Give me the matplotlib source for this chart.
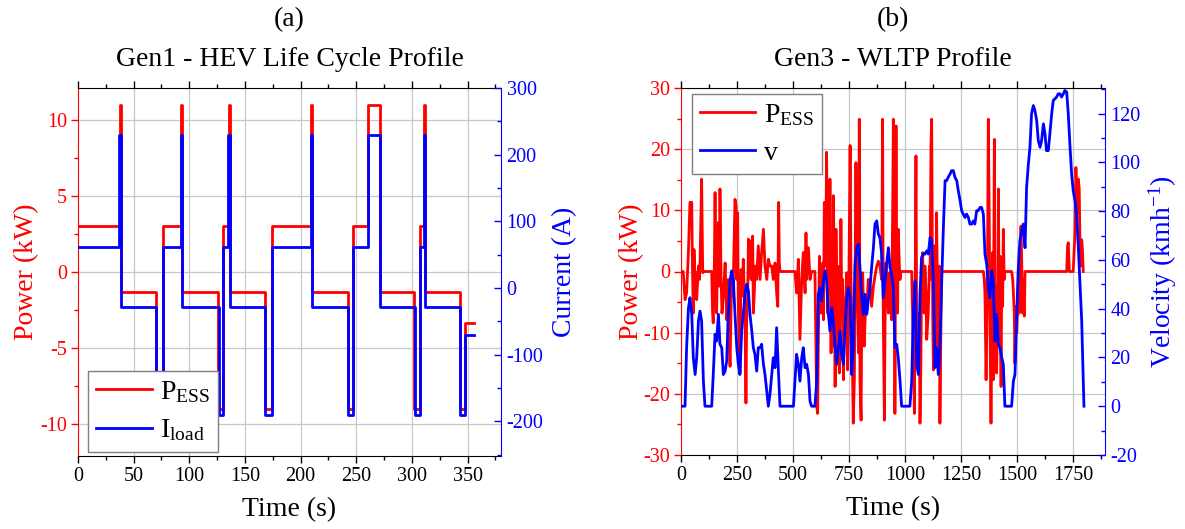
import matplotlib
matplotlib.use("Agg")
import matplotlib.pyplot as plt
from matplotlib.ticker import MultipleLocator
from matplotlib.lines import Line2D

plt.rcParams['font.family'] = ['Liberation Serif', 'DejaVu Serif']
plt.rcParams['mathtext.fontset'] = 'custom'
plt.rcParams['mathtext.rm'] = 'Liberation Serif'
plt.rcParams['mathtext.it'] = 'Liberation Serif:italic'
plt.rcParams['axes.unicode_minus'] = False

RED = '#ff0000'
BLUE = '#0000ff'

# ---------------- (a) Gen1 - HEV life cycle profile (step data) ----------------
p_time = [0, 37.5, 38.5, 70, 76, 92.5, 93.5, 126, 130, 135.5, 136.5, 168, 174, 209.5, 210.5,
          242.5, 247, 260.5, 271, 302, 307, 310.5, 311.5, 343, 347.5, 355.5]
p_ess = [3, 11, -1.3, -9, 3, 11, -1.3, -9, 3, 11, -1.3, -9, 3, 11, -1.3,
         -9, 3, 11, -1.3, -9, 3, 11, -1.3, -9, -3.35, -3.35]

i_time = [0, 37.2, 38.6, 70.5, 76.5, 92.2, 93.6, 126.3, 130.3, 135.2, 136.6, 168.3, 174.3, 209.3, 210.6,
          242.6, 247.2, 260.5, 271, 302.6, 307.2, 310.4, 311.6, 343.2, 347.7, 355.5]
i_load = [62, 230, -28, -190, 62, 230, -28, -190, 62, 230, -28, -190, 62, 230, -28,
          -190, 62, 230, -28, -190, 62, 230, -28, -190, -71, -71]

# ---------------- (b) Gen3 - WLTP profile ----------------
v_time = [0, 18, 25, 33, 40, 48, 55, 63, 70, 78, 85, 92, 100, 107, 137, 144, 152, 159, 167, 174,
          182, 189, 197, 204, 211, 219, 226, 234, 241, 249, 256, 263, 271, 278, 286, 293, 301, 308,
          316, 323, 330, 338, 345, 353, 360, 368, 375, 383, 390, 397, 405, 412, 420, 427, 435, 442,
          502, 516, 524, 531, 539, 546, 554, 561, 569, 576, 583, 598, 606, 613, 621, 628, 636, 643,
          650, 658, 665, 673, 680, 688, 695, 702, 710, 717, 725, 732, 740, 747, 755, 762, 769, 777,
          784, 792, 799, 807, 814, 821, 829, 836, 844, 851, 859, 866, 874, 881, 888, 896, 903, 911,
          918, 926, 933, 940, 948, 955, 963, 970, 978, 985, 1022, 1030, 1037, 1045, 1052, 1060, 1067,
          1074, 1082, 1089, 1097, 1104, 1112, 1119, 1127, 1134, 1141, 1149, 1156, 1164, 1171, 1179,
          1186, 1193, 1201, 1208, 1216, 1223, 1231, 1238, 1246, 1253, 1260, 1268, 1275, 1283, 1290,
          1298, 1305, 1312, 1320, 1327, 1335, 1342, 1350, 1357, 1365, 1372, 1379, 1387, 1394, 1402,
          1409, 1417, 1424, 1432, 1439, 1446, 1476, 1484, 1491, 1499, 1506, 1513, 1521, 1528, 1536,
          1543, 1551, 1558, 1565, 1573, 1580, 1588, 1595, 1603, 1610, 1618, 1625, 1632, 1640, 1647,
          1655, 1662, 1670, 1677, 1684, 1692, 1699, 1707, 1714, 1722, 1729, 1737, 1744, 1751, 1759,
          1766, 1774, 1781, 1789, 1796, 1799]
velocity = [0, 0, 24, 40, 44.5, 37.7, 19.9, 13, 20, 35, 39, 35, 10.3, 0, 0, 13, 29.5, 26.7, 37.7, 25.4,
            24, 13, 14.4, 18.5, 37.7, 51.4, 55.5, 51.4, 37.7, 24, 17.2, 13, 30.9, 37.7, 45.9, 50, 47.3, 37.7,
            30.9, 24, 21.3, 14.4, 24, 24, 25.4, 17.2, 13, 6.2, 0, 4.8, 13, 19.9, 15.8, 32.2, 14.4, 0,
            0, 21.3, 17.2, 10.3, 19.9, 24, 15.8, 17.2, 13, 2, 0, 0, 10.3, 45.9, 48.7, 43.2, 51.4, 55.5,
            51.4, 37.7, 30.9, 40.4, 35, 24, 17.2, 24, 30.9, 21.3, 17.2, 30.9, 44.5, 48.7, 44.5, 13, 24, 58.2,
            65, 66.5, 56.9, 44.5, 37.7, 45.9, 37.7, 43.2, 48.7, 56.9, 65, 74.7, 76, 70.6, 69.2, 62.4, 44.5, 51.4,
            58.2, 65, 56.9, 54.1, 48.7, 24, 25.4, 19.9, 10.3, 0, 0, 10.3, 37.7, 51.4, 17.2, 13, 45.9,
            61, 62.4, 62.4, 63.7, 62.4, 69.2, 67.8, 51.4, 15.8, 24, 13, 24, 51.4, 72, 92.5,
            92.5, 93.9, 95.2, 96.6, 96.6, 93.9, 92.5, 88.4, 84.3, 80.2, 78.8, 77.4, 78.8, 77.4, 74.7,
            74.7, 76, 74.7, 80.2, 80.2, 81.5, 81.5, 78.8, 62.4, 58.2, 48.7, 44.5, 55.5, 51.4, 26.7,
            37.7, 25.4, 24, 19.9, 17.2, 0, 0, 10.3, 13, 37.7, 56.9, 67.8, 72, 74.7, 65,
            89.8, 99.4, 106.2, 119.9, 123.3, 121.3, 117.2, 109, 106.2, 109, 115.8, 111.7, 104.8, 104.8, 111.7,
            119.9, 125.4, 126.1, 126.8, 128.1, 128.1, 126.8, 128.1, 129.5, 128.8, 119.9, 106.2, 95.2, 88.4, 84.3,
            78.8, 65, 51.4, 35, 10.3, 0]

pw_time = [0, 10, 18, 25, 33, 40, 48, 51, 55, 58, 63, 67, 70, 78, 82, 85, 92, 97, 100, 137, 141, 144,
           149, 152, 156, 159, 164, 167, 171, 174, 179, 183, 189, 197, 204, 211, 216, 219, 223, 226,
           231, 234, 241, 246, 249, 253, 256, 260, 263, 268, 271, 275, 278, 286, 290, 293, 298, 301,
           305, 308, 313, 316, 320, 323, 328, 330, 338, 345, 353, 360, 368, 375, 383, 390, 397, 405,
           412, 420, 427, 432, 436, 439, 442, 509, 516, 524, 531, 539, 546, 554, 558, 561, 569, 576,
           583, 598, 606, 610, 613, 618, 621, 625, 628, 633, 636, 640, 643, 647, 650, 655, 658, 662,
           665, 670, 673, 677, 680, 685, 688, 692, 695, 700, 702, 707, 710, 714, 717, 722, 725, 729,
           732, 737, 740, 744, 749, 755, 759, 762, 766, 769, 774, 777, 781, 784, 789, 792, 796, 799,
           804, 807, 811, 814, 818, 821, 826, 829, 836, 844, 851, 859, 866, 874, 881, 888, 896, 900,
           903, 908, 911, 915, 918, 926, 930, 933, 940, 945, 948, 952, 955, 960, 963, 967, 970, 975,
           978, 981, 1030, 1034, 1037, 1042, 1045, 1049, 1052, 1057, 1060, 1064, 1067, 1071, 1074,
           1079, 1082, 1086, 1089, 1094, 1097, 1104, 1109, 1112, 1116, 1119, 1124, 1127, 1131, 1134,
           1138, 1141, 1146, 1149, 1153, 1156, 1161, 1164, 1350, 1354, 1357, 1362, 1365, 1369, 1372,
           1376, 1379, 1384, 1387, 1391, 1394, 1399, 1402, 1406, 1409, 1414, 1417, 1421, 1424, 1429,
           1432, 1436, 1439, 1443, 1446, 1476, 1481, 1484, 1488, 1491, 1495, 1499, 1503, 1506, 1510,
           1513, 1518, 1521, 1525, 1528, 1533, 1536, 1722, 1726, 1729, 1734, 1751, 1759, 1763, 1766,
           1771, 1774, 1778, 1781, 1786, 1789, 1793, 1796]
power = [0, 0, -4.6, -3.5, 3.1, 11.3, 11.3, 0.9, -6.8, 3.6, -1.3, -0.2, -4.6, 0.9, -1.3, 1.4, 15.1, -0.2, 0, 0, -6.8, -8.4,
         1.4, 12.9, -2.4, -6.8, 4.2, 8, -2.4, 13.5, -1.3, -6.8, -4, 1.4, -7.9, -1.3, -12.2, -15.5, -6.8, -1.3,
         -4, -0.8, 11.8, 10.7, -1.3, 9.6, -5.7, -13.3, -16.6, 0.3, -0.2, -4, 2, -7.9, -21.5, -8.4, -3.5, 5.3,
         0.9, 5, -1.3, 4.2, 5.8, -6.8, -2.9, 0.9, -1.3, 4.2, -1.3, 3.1, 6.9, 0.9, -1.3, 2, 0.9, 0.9,
         -1.3, 1.4, -3.5, -5.7, 11.3, 1.4, 0, 0, -3.5, 2, -11.1, -1.3, 3.1, -3.5, 6.3, -1.3, 3.9, -1.3,
         0, 0, -22.1, -23.2, -12.2, 2.5, -4.6, -6.8, -4.6, 1.4, -7.9, 11.3, 0.9, 6.3, 19.5, -6.8, 9.6, -1.3,
         15.1, -13.3, 4.2, -12.2, 12.4, 0.9, -18.8, 6.9, -2.4, 0.9, -8.9, -16.6, -10, 8.5, -3.5, -1.3, -17.7, -9.5,
         -6.2, -3.5, -0.2, -16.1, -3.5, 20.6, -1.3, -6.8, -16.6, -24.8, -17.7, -1.3, 17.8, 3.1, -6.8, -13.3, 24.9, -17.7,
         -24.3, -6.8, -0.2, -4.6, -12.2, -8.9, -4, -6.8, -1.3, -2.4, -5.7, -2.4, -0.8, 0.9, 1.7, 0.9, -1.3, 24.9,
         -6.8, -24.3, -8.4, 1.4, -1.3, -6.8, -0.2, -2.4, -7.9, 9.6, 24.9, 15.1, -23.2, 23.8, -1.3, -6.8, 6.9, 0.9,
         -1.3, 0, 0, -6.8, -12.2, -23.2, -4, 18.9, -6.8, -15.5, -15, -6.8, -24.8, -15, -1.3,
         3.1, -4.6, -6.8, 0.9, -3.5, -11.1, -6.8, 0.9, -1.3, 20.6, 24.9, -7.9, -16.1, 4.2, -13.9,
         -5.7, 9.6, -6.8, -16.6, 0.9, -24.8, -6.8, 0, 0, -1.3, -3.5, -17.7, -10, 4.2, 24.9,
         9.6, -6.8, -24.8, -12.2, 3.1, -17.7, 21.6, -9.5, -2.4, -16.6, -5.7, 13.5, -11.1, 2.5, -18.8,
         -0.2, -5.7, 6.9, -1.3, 0, 0, -1.3, -3.5, -6.8, -15, -5.7, -10, -6.2, -1.3, -6.8,
         0.3, 7.4, 2, -6.8, -1.3, -7.3, 0, 0, 4.2, 4.7, 0, 0, 6.3, 17, 14,
         9.6, 15.1, 13.5, 5.2, 0.9, 5.2, 3.1, 0]

panel_tags = ['(a)', '(b)']
panel_titles = ['Gen1 - HEV Life Cycle Profile', 'Gen3 - WLTP Profile']

# ---------------- figure ----------------
W, H = 1185, 529
fig = plt.figure(figsize=(W / 100, H / 100), dpi=100)


def px_axes(x0, x1, y0, y1):
    return fig.add_axes([x0 / W, (H - y1) / H, (x1 - x0) / W, (y1 - y0) / H])


TICK_FS = 14.5
LABEL_FS = 20
GRID_C = '#c8c8c8'


def style_axes(ax, axr):
    ax.tick_params(axis='x', which='both', direction='out', top=True, labelsize=TICK_FS,
                   colors='black', pad=3)
    ax.tick_params(axis='x', which='major', length=5, width=1)
    ax.tick_params(axis='x', which='minor', length=3, width=1)
    ax.tick_params(axis='y', which='both', direction='out', colors=RED, labelsize=TICK_FS, pad=3)
    ax.tick_params(axis='y', which='major', length=5, width=1)
    ax.tick_params(axis='y', which='minor', length=3, width=1)
    axr.tick_params(axis='y', which='both', direction='in', colors=BLUE, labelsize=TICK_FS, pad=4)
    axr.tick_params(axis='y', which='major', length=5, width=1)
    axr.tick_params(axis='y', which='minor', length=3, width=1)
    ax.spines['left'].set_color(RED)
    ax.spines['right'].set_visible(False)
    axr.spines['left'].set_visible(False)
    axr.spines['right'].set_color(BLUE)
    for s in ('top', 'bottom'):
        ax.spines[s].set_color('black')
    axr.spines['top'].set_visible(False)
    axr.spines['bottom'].set_visible(False)
    ax.grid(True, which='major', color=GRID_C, lw=0.9)
    ax.set_axisbelow(True)
    for lab in ax.get_xticklabels() + ax.get_yticklabels() + axr.get_yticklabels():
        lab.set_family(['Liberation Serif', 'DejaVu Serif'])


def add_titles(x0, x1, tag, title):
    xc = (x0 + x1) / 2 / W
    fig.text(xc, 1 - 20 / H, tag, ha='center', va='center', fontsize=LABEL_FS)
    fig.text(xc, 1 - 60 / H, title, ha='center', va='center', fontsize=LABEL_FS)


def add_legend(axr, labels, loc, anchor):
    handles = [Line2D([], [], color=RED, lw=2), Line2D([], [], color=BLUE, lw=2)]
    leg = axr.legend(handles, labels, loc=loc, bbox_to_anchor=anchor, borderaxespad=0,
                     fontsize=LABEL_FS, fancybox=False, framealpha=1, edgecolor='#7f7f7f',
                     handlelength=2.0, handletextpad=0.3, borderpad=0.3, labelspacing=0.45)
    leg.get_frame().set_linewidth(1.0)
    return leg


# ---- (a)
ax1 = px_axes(78, 501, 88, 456)
ax1r = ax1.twinx()
ax1.plot(p_time, p_ess, drawstyle='steps-post', color=RED, lw=2)
ax1r.plot(i_time, i_load, drawstyle='steps-post', color=BLUE, lw=2)
ax1.set_xlim(0, 380)
ax1.set_ylim(-12.1, 12.1)
ax1r.set_ylim(-252, 300)
ax1.xaxis.set_major_locator(MultipleLocator(50))
ax1.xaxis.set_minor_locator(MultipleLocator(25))
ax1.yaxis.set_major_locator(MultipleLocator(5))
ax1.yaxis.set_minor_locator(MultipleLocator(2.5))
ax1r.yaxis.set_major_locator(MultipleLocator(100))
ax1r.yaxis.set_minor_locator(MultipleLocator(50))
style_axes(ax1, ax1r)
ax1.set_xlabel('Time (s)', fontsize=LABEL_FS, labelpad=8)
ax1.set_ylabel('Power (kW)', fontsize=LABEL_FS, color=RED, labelpad=0.5)
ax1r.set_ylabel('Current (A)', fontsize=LABEL_FS, color=BLUE, labelpad=6)
add_titles(78, 501, panel_tags[0], panel_titles[0])
add_legend(ax1r, [r'P$_{\mathrm{ESS}}$', r'I$_{\mathrm{load}}$'], 'lower left', (0.023, 0.012))

# ---- (b)
ax2 = px_axes(681, 1105, 88, 455)
ax2r = ax2.twinx()
ax2.plot(pw_time, power, color=RED, lw=2)
ax2r.plot(v_time, velocity, color=BLUE, lw=2)
ax2.set_xlim(0, 1893)
ax2.set_ylim(-30, 30)
ax2r.set_ylim(-20, 130.5)
ax2.xaxis.set_major_locator(MultipleLocator(250))
ax2.xaxis.set_minor_locator(MultipleLocator(125))
ax2.yaxis.set_major_locator(MultipleLocator(10))
ax2.yaxis.set_minor_locator(MultipleLocator(5))
ax2r.yaxis.set_major_locator(MultipleLocator(20))
ax2r.yaxis.set_minor_locator(MultipleLocator(10))
style_axes(ax2, ax2r)
ax2.set_xlabel('Time (s)', fontsize=LABEL_FS, labelpad=8)
ax2.set_ylabel('Power (kW)', fontsize=LABEL_FS, color=RED, labelpad=-1)
ax2r.set_ylabel(r'Velocity (kmh$^{\mathrm{-1}}$)', fontsize=LABEL_FS, color=BLUE, labelpad=4)
add_titles(681, 1105, panel_tags[1], panel_titles[1])
add_legend(ax2r, [r'P$_{\mathrm{ESS}}$', 'v'], 'upper left', (0.025, 0.984))

fig.savefig('out.png', dpi=100, facecolor='white')
